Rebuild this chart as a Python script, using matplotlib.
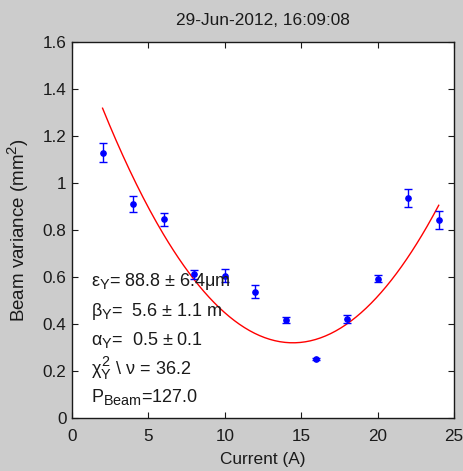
import numpy as np
import matplotlib
matplotlib.use("Agg")
import matplotlib.pyplot as plt
import matplotlib._mathtext as _mt

plt.rcParams['font.family'] = ['Liberation Sans', 'DejaVu Sans']
plt.rcParams['mathtext.fontset'] = 'custom'
plt.rcParams['mathtext.rm'] = 'Liberation Sans'
plt.rcParams['mathtext.it'] = 'Liberation Sans'
plt.rcParams['mathtext.bf'] = 'Liberation Sans'
# slightly larger sub/superscripts
_mt.SHRINK_FACTOR = 0.8

# Measured beam variance vs quadrupole current
current = [2, 4, 6, 8, 10, 12, 14, 16, 18, 20, 22, 24]
variance = [1.129, 0.911, 0.846, 0.611, 0.606, 0.537, 0.417, 0.251, 0.421, 0.593, 0.938, 0.843]
variance_err = [0.040, 0.034, 0.027, 0.020, 0.027, 0.027, 0.012, 0.006, 0.018, 0.015, 0.038, 0.039]

# Parabolic fit: a*(I - I0)^2 + c
fit_a, fit_i0, fit_c = 0.00643, 14.46, 0.320
fit_range = (2.0, 24.0)

title = "29-Jun-2012, 16:09:08"
fit_labels = [
    r"$\varepsilon_Y$= 88.8 $\pm$ 6.4$\mu$m",
    r"$\beta_Y$=  5.6 $\pm$ 1.1 m",
    r"$\alpha_Y$=  0.5 $\pm$ 0.1",
    r"$\chi^2_Y$ \ $\nu$ = 36.2",
    r"P$_{\rm Beam}$=127.0",
]
label_y = [0.58, 0.455, 0.33, 0.21, 0.09]

txt_col = '#1a1a1a'
fig = plt.figure(figsize=(4.64, 4.71), dpi=100, facecolor='#cccccc')
ax = fig.add_axes([72 / 464, 1 - 418 / 471, (454 - 72) / 464, (418 - 42) / 471])
ax.set_facecolor('white')

xf = np.linspace(fit_range[0], fit_range[1], 200)
ax.plot(xf, fit_a * (xf - fit_i0) ** 2 + fit_c, color='red', lw=1.0)

ax.errorbar(current, variance, yerr=variance_err, fmt='o', color='blue',
            ms=3.8, elinewidth=1.0, capsize=2.6, capthick=1.0)

for txt, yy in zip(fit_labels, label_y):
    ax.text(1.25, yy, txt, fontsize=13, color=txt_col, va='center', ha='left')

ax.set_xlim(0, 25)
ax.set_ylim(0, 1.6)
ax.set_xticks([0, 5, 10, 15, 20, 25])
ax.set_yticks([0, 0.2, 0.4, 0.6, 0.8, 1.0, 1.2, 1.4, 1.6])
ax.set_yticklabels(['0', '0.2', '0.4', '0.6', '0.8', '1', '1.2', '1.4', '1.6'])
ax.tick_params(direction='in', top=True, right=True, labelsize=12.3, length=4,
               colors=txt_col)
ax.tick_params(axis='x', pad=8)
ax.tick_params(axis='y', pad=4)
for s in ax.spines.values():
    s.set_linewidth(1.0)
    s.set_color(txt_col)

ax.set_title(title, fontsize=12.4, color=txt_col, pad=12)
ax.set_xlabel("Current (A)", fontsize=12.4, color=txt_col, labelpad=6)
ax.set_ylabel(r"Beam variance (mm$^2$)", fontsize=13.5, color=txt_col, labelpad=8)

fig.savefig("out.png", dpi=100, facecolor=fig.get_facecolor())
